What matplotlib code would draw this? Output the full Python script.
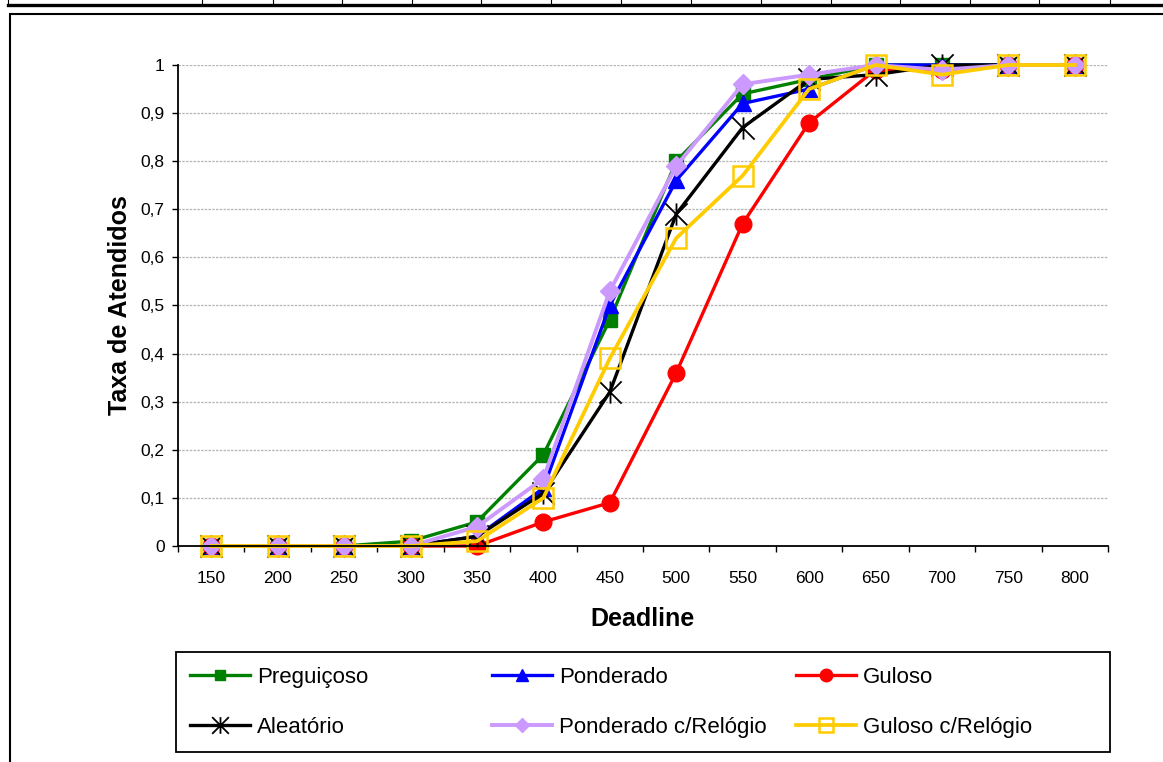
import numpy as np
import matplotlib
matplotlib.use("Agg")
import matplotlib.pyplot as plt
from matplotlib.path import Path
from matplotlib.lines import Line2D
from matplotlib.patches import Rectangle

plt.rcParams["font.family"] = ["Liberation Sans", "DejaVu Sans"]

# ── data ────────────────────────────────────────────────────────────
deadlines = [150, 200, 250, 300, 350, 400, 450, 500, 550, 600, 650, 700, 750, 800]

preguicoso = [0, 0, 0, 0.01, 0.05, 0.19, 0.47, 0.80, 0.94, 0.97, 1.00, 1.00, 1.00, 1.00]
ponderado = [0, 0, 0, 0, 0.02, 0.12, 0.50, 0.76, 0.92, 0.95, 1.00, 1.00, 1.00, 1.00]
guloso = [0, 0, 0, 0, 0.00, 0.05, 0.09, 0.36, 0.67, 0.88, 0.99, 0.99, 1.00, 1.00]
aleatorio = [0, 0, 0, 0, 0.02, 0.11, 0.32, 0.69, 0.87, 0.97, 0.98, 1.00, 1.00, 1.00]
ponderado_rel = [0, 0, 0, 0, 0.04, 0.14, 0.53, 0.79, 0.96, 0.98, 1.00, 0.99, 1.00, 1.00]
guloso_rel = [0, 0, 0, 0, 0.01, 0.10, 0.39, 0.64, 0.77, 0.95, 1.00, 0.98, 1.00, 1.00]

# Excel-style "star" marker: an X with a vertical stroke
star = Path([(-1, -1), (1, 1), (1, -1), (-1, 1), (0, -1), (0, 1)],
            [Path.MOVETO, Path.LINETO] * 3)

series = [
    ("Preguiçoso", preguicoso, dict(color="#008000", marker="s", ms=9.5, mfc="#008000", mec="#008000", lw=2.4)),
    ("Ponderado", ponderado, dict(color="#0000FF", marker="^", ms=12, mfc="#0000FF", mec="#0000FF", lw=2.4)),
    ("Guloso", guloso, dict(color="#FF0000", marker="o", ms=12, mfc="#FF0000", mec="#FF0000", lw=2.4)),
    ("Aleatório", aleatorio, dict(color="#000000", marker=star, ms=16, mfc="none", mec="#000000", mew=1.3, lw=2.4)),
    ("Ponderado c/Relógio", ponderado_rel, dict(color="#CC99FF", marker="D", ms=10, mfc="#CC99FF", mec="#CC99FF", lw=2.8)),
    ("Guloso c/Relógio", guloso_rel, dict(color="#FFCC00", marker="s", ms=14, mfc="none", mec="#FFCC00", mew=1.8, lw=2.7)),
]

W, H = 1163, 762
fig = plt.figure(figsize=(W / 100, H / 100), dpi=100)
fig.patch.set_facecolor("white")

# spreadsheet strip above the chart + chart area frame
fig.add_artist(Line2D([8 / W, 1], [1 - 4.5 / H] * 2, color="black", lw=2.4))
for xc in [8, 202, 273, 342, 412, 481, 551, 621, 691, 761, 831, 900, 970, 1039, 1110]:
    fig.add_artist(Line2D([xc / W] * 2, [1 - 4.5 / H, 1], color="black", lw=0.8))
fig.add_artist(Rectangle((10 / W, -0.05), 1.1, 1 - 13.5 / H + 0.05, fill=False,
                         ec="black", lw=1.5, transform=fig.transFigure))

ax = fig.add_axes([178 / W, 1 - 546 / H, (1108 - 178) / W, (546 - 65) / H])
x = np.arange(len(deadlines))
handles = []
for label, vals, kw in series:
    h, = ax.plot(x, vals, label=label, clip_on=False, **kw)
    handles.append(h)

yt = np.round(np.arange(0, 1.01, 0.1), 1)
ax.set_xlim(-0.5, len(deadlines) - 0.5)
ax.set_ylim(0, 1)
ax.set_yticks(yt)
ax.set_yticklabels([("%g" % v).replace(".", ",") for v in yt], fontsize=12.5)
ax.set_xticks(x)
ax.set_xticklabels([str(d) for d in deadlines], fontsize=12.5)
ax.set_xticks(np.arange(-0.5, len(deadlines)), minor=True)
ax.tick_params(axis="x", which="major", length=0, pad=18)
ax.tick_params(axis="x", which="minor", length=4.5, width=1, direction="out")
ax.tick_params(axis="y", which="major", length=4.5, width=1, direction="out", pad=5)

ax.grid(axis="y", color="#B4B4B4", lw=0.9, ls=(0, (2, 1)))
ax.set_axisbelow(True)
for s in ["top", "right"]:
    ax.spines[s].set_visible(False)
for s in ["left", "bottom"]:
    ax.spines[s].set_linewidth(1.3)

ax.set_xlabel("Deadline", fontsize=18, fontweight="bold", labelpad=15)
ax.set_ylabel("Taxa de Atendidos", fontsize=18, fontweight="bold", labelpad=6)

# legend: box plus three fixed-width columns, like Excel
fig.add_artist(Rectangle((176 / W, 1 - 752 / H), (1110 - 176) / W, 100 / H, fill=False,
                         ec="black", lw=1.3, transform=fig.transFigure))
for col, cx in enumerate([190, 492, 796]):
    leg = fig.legend(handles=[handles[col], handles[col + 3]], loc="upper left",
                     bbox_to_anchor=(cx / W, 1 - 667 / H), frameon=False, fontsize=16,
                     handlelength=2.7, handletextpad=0.3, borderpad=0, borderaxespad=0,
                     labelspacing=1.3, numpoints=1, markerscale=0.75)

fig.savefig("out.png", dpi=100)
